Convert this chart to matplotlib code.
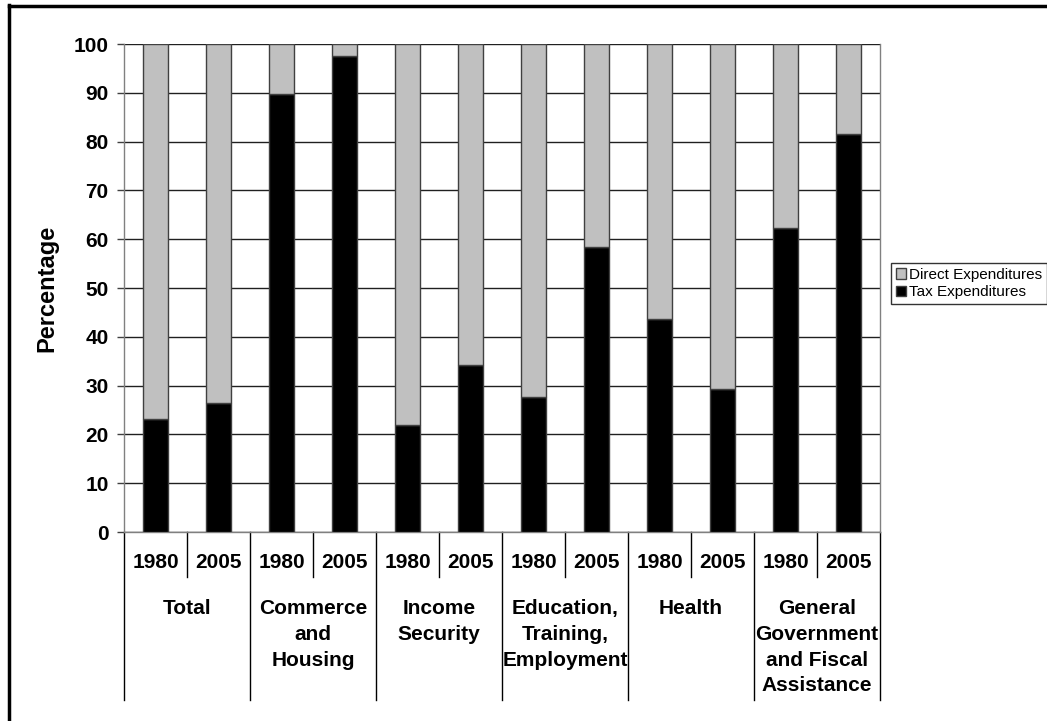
import matplotlib
matplotlib.use('Agg')
import matplotlib.pyplot as plt
import matplotlib.transforms as mtransforms
import numpy as np

plt.rcParams['font.family'] = ['Liberation Sans', 'DejaVu Sans']

# Data
groups = ['Total', 'Commerce\nand\nHousing', 'Income\nSecurity',
          'Education,\nTraining,\nEmployment', 'Health',
          'General\nGovernment\nand Fiscal\nAssistance']
years = ['1980', '2005']
tax_exp = [23.2, 26.4, 89.8, 97.5, 21.9, 34.2, 27.7, 58.4, 43.6, 29.3, 62.3, 81.6]
direct_exp = [100 - v for v in tax_exp]

W, H = 1047, 721
fig = plt.figure(figsize=(W / 100, H / 100), dpi=100)
ax = fig.add_axes([124 / W, 1 - 532 / H, (880 - 124) / W, (532 - 44) / H])

x = np.arange(len(tax_exp))
bar_w = 0.41
ax.bar(x, tax_exp, width=bar_w, color='black', edgecolor='#404040',
       linewidth=1, label='Tax Expenditures', zorder=3)
ax.bar(x, direct_exp, width=bar_w, bottom=tax_exp, color='#C0C0C0',
       edgecolor='#404040', linewidth=1, label='Direct Expenditures', zorder=3)

ax.set_xlim(-0.5, len(tax_exp) - 0.5)
ax.set_ylim(0, 100)
ax.set_yticks(range(0, 101, 10))
ax.tick_params(axis='y', direction='out', length=5, width=1, color='#404040',
               labelsize=15, pad=6)
for lbl in ax.get_yticklabels():
    lbl.set_fontweight('bold')
ax.set_xticks([])
ax.yaxis.grid(True, color='#202020', linewidth=1, zorder=0)
ax.spines['top'].set_visible(False)
for s in ['left', 'right', 'bottom']:
    ax.spines[s].set_color('#808080')
    ax.spines[s].set_linewidth(1)

fig.text(47 / W, 1 - 288 / H, 'Percentage', rotation=90, ha='center',
         va='center', fontsize=17, fontweight='bold')

# multi-level category axis
trans = mtransforms.blended_transform_factory(ax.transData, fig.transFigure)
y_axis = 1 - 532 / H
y_year_bot = 1 - 577 / H
y_group_bot = 1 - 700 / H
for i in range(len(tax_exp)):
    ax.text(x[i], 1 - 563 / H, years[i % 2], transform=trans, ha='center',
            va='center', fontsize=15, fontweight='bold')
for i in range(len(groups)):
    ax.text(2 * i + 0.5, 1 - 599 / H, groups[i], transform=trans, ha='center',
            va='top', fontsize=15, fontweight='bold', linespacing=1.45)
    ax.plot([2 * i + 0.5] * 2, [y_axis, y_year_bot], transform=trans,
            color='black', linewidth=1, clip_on=False)
for i in range(len(groups) + 1):
    ax.plot([2 * i - 0.5] * 2, [y_axis, y_group_bot], transform=trans,
            color='black', linewidth=1, clip_on=False)

handles, labels = ax.get_legend_handles_labels()
leg = fig.legend(handles[::-1], labels[::-1], loc='upper left',
                 bbox_to_anchor=(891 / W, 1 - 263 / H), fontsize=11,
                 frameon=True, fancybox=False, edgecolor='black',
                 handlelength=0.7, handleheight=0.7, handletextpad=0.2,
                 borderpad=0.3, labelspacing=0.25, borderaxespad=0)
leg.get_frame().set_linewidth(1)

# outer border (top and left visible)
fig.add_artist(plt.Line2D([9 / W, 9 / W], [0, 1 - 5 / H], color='black',
                          linewidth=2.5, transform=fig.transFigure))
fig.add_artist(plt.Line2D([9 / W, 1], [1 - 5.5 / H, 1 - 5.5 / H], color='black',
                          linewidth=2.5, transform=fig.transFigure))

fig.savefig('out.png', dpi=100)
